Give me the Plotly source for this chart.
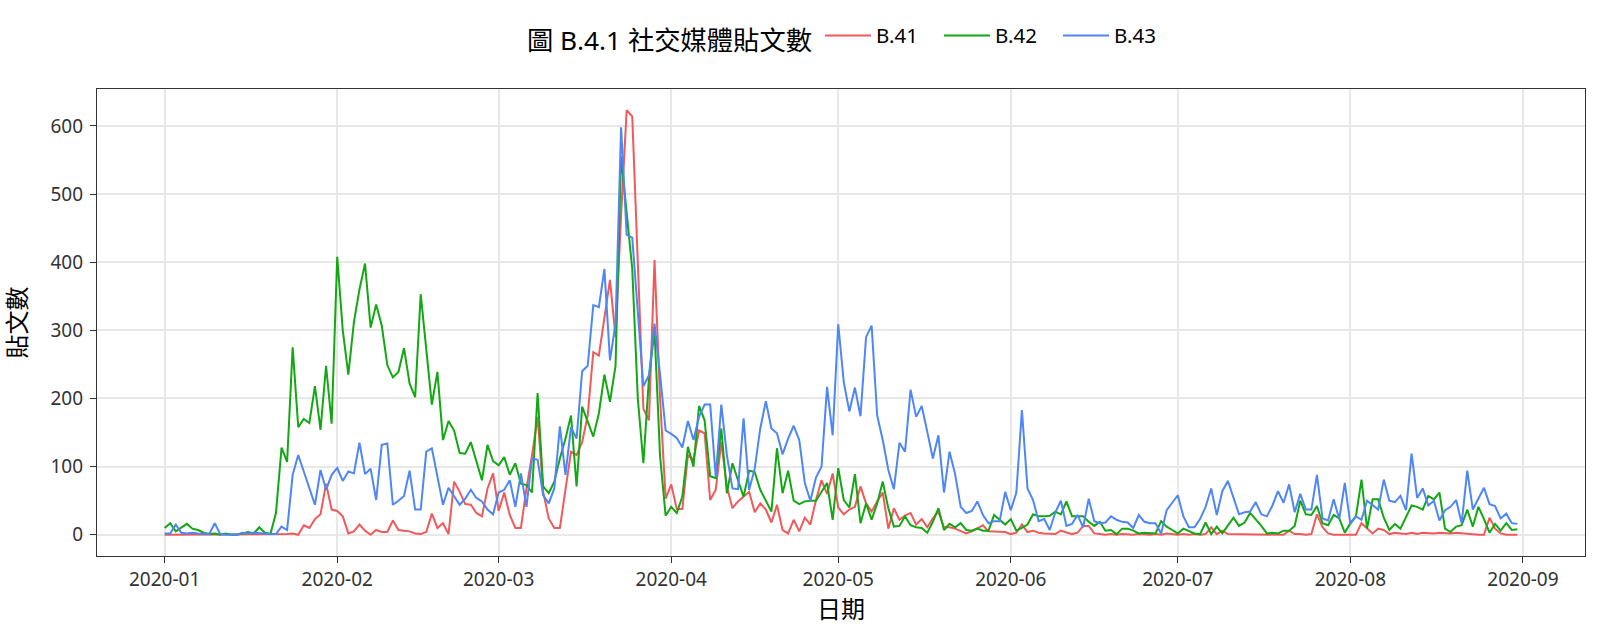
import pandas as pd
import plotly.graph_objects as go

dates = pd.date_range("2020-01-01", "2020-08-31", freq="D")

# B.41 (red)
b41_jan = [0,0,0,1,0,0,0,0,0,0,0,0,0,0,0,1,0,0,0,0,0,1,1,2,0,14,10,23,30,75,37]
b41_feb = [35,27,2,5,15,6,0,7,4,4,21,7,6,5,2,1,4,31,10,17,1,78,63,45,44,32,27,68,90]
b41_mar = [35,62,29,10,10,68,117,173,63,24,10,10,68,122,117,136,175,268,263,320,374,290,470,623,614,400,185,168,403,200,53]
b41_apr = [74,38,38,117,110,153,149,51,66,136,71,39,49,56,63,33,46,37,18,44,7,2,22,5,25,15,51,80,60,90]
b41_may = [40,30,37,41,71,46,34,49,62,9,39,22,28,32,15,23,11,24,34,11,11,9,5,2,5,9,14,5,5,4,4]
b41_jun = [1,3,15,4,6,3,2,2,1,6,3,1,3,13,13,2,1,0,1,0,1,0,0,1,0,0,1,0,2,1]
b41_jul = [0,1,0,1,0,1,11,1,6,1,1,0,1,1,0,1,1,0,1,0,6,1,1,0,1,30,11,2,0,0,0]
b41_aug = [0,0,17,9,2,9,7,1,3,2,1,3,1,3,2,2,3,2,2,3,2,1,0,0,0,25,9,2,0,0,0]

# B.42 (green)
b42_jan = [10,17,5,10,16,9,7,3,1,2,0,2,0,0,2,4,2,11,3,1,32,128,107,275,158,170,164,218,154,248,163]
b42_feb = [408,300,235,312,360,398,304,338,307,249,231,239,274,222,202,353,273,191,239,139,167,153,120,119,136,107,80,132,108]
b42_mar = [102,114,88,105,75,73,62,208,71,61,78,112,141,175,71,188,166,144,178,235,195,248,555,470,390,200,105,230,300,115,28]
b42_apr = [41,32,56,129,100,189,168,86,83,156,61,105,80,56,94,92,66,51,34,127,61,94,50,45,49,50,50,63,76,22]
b42_may = [98,51,40,89,17,46,22,46,78,39,12,13,27,14,11,10,3,19,39,7,16,11,17,7,6,9,6,6,29,22,15]
b42_jun = [23,6,10,15,30,27,27,28,34,30,49,27,27,27,19,13,19,6,7,1,9,9,6,2,3,2,2,20,12,7]
b42_jul = [2,9,6,2,1,18,1,12,2,13,25,13,18,32,23,13,2,3,2,6,6,13,50,30,29,42,17,14,29,24,3]
b42_aug = [17,27,81,9,52,52,25,7,16,9,27,43,41,37,57,52,62,9,4,12,14,37,12,41,23,3,16,6,17,7,8]

# B.43 (blue)
b43_jan = [2,2,15,3,2,3,2,1,1,17,1,0,0,0,3,2,3,2,2,1,1,12,7,88,117,93,68,44,95,66,88]
b43_feb = [98,79,93,90,135,89,97,51,132,134,44,50,57,94,37,37,122,127,83,44,69,57,44,53,66,54,49,37,30]
b43_mar = [62,66,80,41,90,41,112,110,58,46,68,159,88,158,141,240,248,337,334,390,256,310,598,440,436,330,218,234,310,235,153]
b43_apr = [148,142,128,167,139,173,191,191,85,191,117,68,67,171,66,97,156,196,156,149,118,141,160,139,76,50,84,100,217,146]
b43_may = [309,224,181,216,174,290,307,175,139,95,67,135,122,213,173,189,151,112,146,62,122,89,41,32,35,49,29,17,20,20,63]
b43_jun = [36,62,183,68,51,20,23,7,33,50,13,16,29,11,53,20,17,18,27,22,19,18,10,29,19,17,17,2,36,47]
b43_jul = [58,27,11,11,23,41,68,29,64,79,54,30,33,34,48,30,27,43,64,47,74,33,60,37,37,88,24,21,52,23,76]
b43_aug = [16,27,22,50,43,37,81,50,48,57,36,119,54,68,43,50,21,36,41,51,17,94,37,54,69,45,42,24,31,17,16]

b41 = b41_jan + b41_feb + b41_mar + b41_apr + b41_may + b41_jun + b41_jul + b41_aug
b42 = b42_jan + b42_feb + b42_mar + b42_apr + b42_may + b42_jun + b42_jul + b42_aug
b43 = b43_jan + b43_feb + b43_mar + b43_apr + b43_may + b43_jun + b43_jul + b43_aug

series_names = ["B.41", "B.42", "B.43"]
series_values = [b41, b42, b43]
colors = ["#F05A5A", "#12A812", "#4F86F7"]

title_text = "圖 B.4.1 社交媒體貼文數"
x_title = "日期"
y_title = "貼文數"
y_ticks = [0, 100, 200, 300, 400, 500, 600]
x_ticks = pd.date_range("2020-01-01", "2020-09-01", freq="MS")

FONT = "Noto Sans, Noto Sans CJK TC, sans-serif"

fig = go.Figure()
for name, vals, col in zip(series_names, series_values, colors):
    fig.add_trace(go.Scatter(x=dates, y=vals, mode="lines", name=name,
                             line=dict(color=col, width=2)))

# ggplot-like 5% expansion
span = dates[-1] - dates[0]
xr = [dates[0] - span * 0.05, dates[-1] + span * 0.05]
ymax = max(max(b41), max(b42), max(b43))
yr = [-0.05 * ymax, ymax * 1.05]

fig.update_layout(
    width=1600, height=639,
    margin=dict(l=97, r=15, t=89, b=83, autoexpand=False),
    paper_bgcolor="white", plot_bgcolor="white",
    font=dict(family=FONT, color="#000000"),
    showlegend=True,
    legend=dict(orientation="h", x=0.507, xanchor="center", y=1.109, yanchor="middle",
                title=dict(text=title_text, side="left", font=dict(size=26.3, color="#000000")),
                font=dict(size=20.5, color="#000000"),
                itemwidth=46,
                entrywidth=58, entrywidthmode="pixels",
                bgcolor="rgba(0,0,0,0)"),
)
fig.update_xaxes(
    range=xr, tickvals=x_ticks, tickformat="%Y-%m",
    showgrid=True, gridcolor="#E8E8E8", gridwidth=1.5,
    ticks="outside", ticklen=6, tickcolor="#333333", tickwidth=1.2,
    ticklabelstandoff=0,
    tickfont=dict(size=19, color="#333333"),
    showline=True, linecolor="#333333", linewidth=1.2, mirror=True,
    zeroline=False,
    title=dict(text=x_title, font=dict(size=24, color="#000000"), standoff=8),
)
fig.update_yaxes(
    range=yr, tickvals=y_ticks,
    showgrid=True, gridcolor="#E8E8E8", gridwidth=1.5,
    ticks="outside", ticklen=6, tickcolor="#333333", tickwidth=1.2,
    ticklabelstandoff=3,
    tickfont=dict(size=19, color="#333333"),
    showline=True, linecolor="#333333", linewidth=1.2, mirror=True,
    zeroline=False,
    title=dict(text=y_title, font=dict(size=24, color="#000000"), standoff=20),
)

fig.write_html("out.html", config={"displayModeBar": False},
               post_script="document.body.style.margin='0px';")
